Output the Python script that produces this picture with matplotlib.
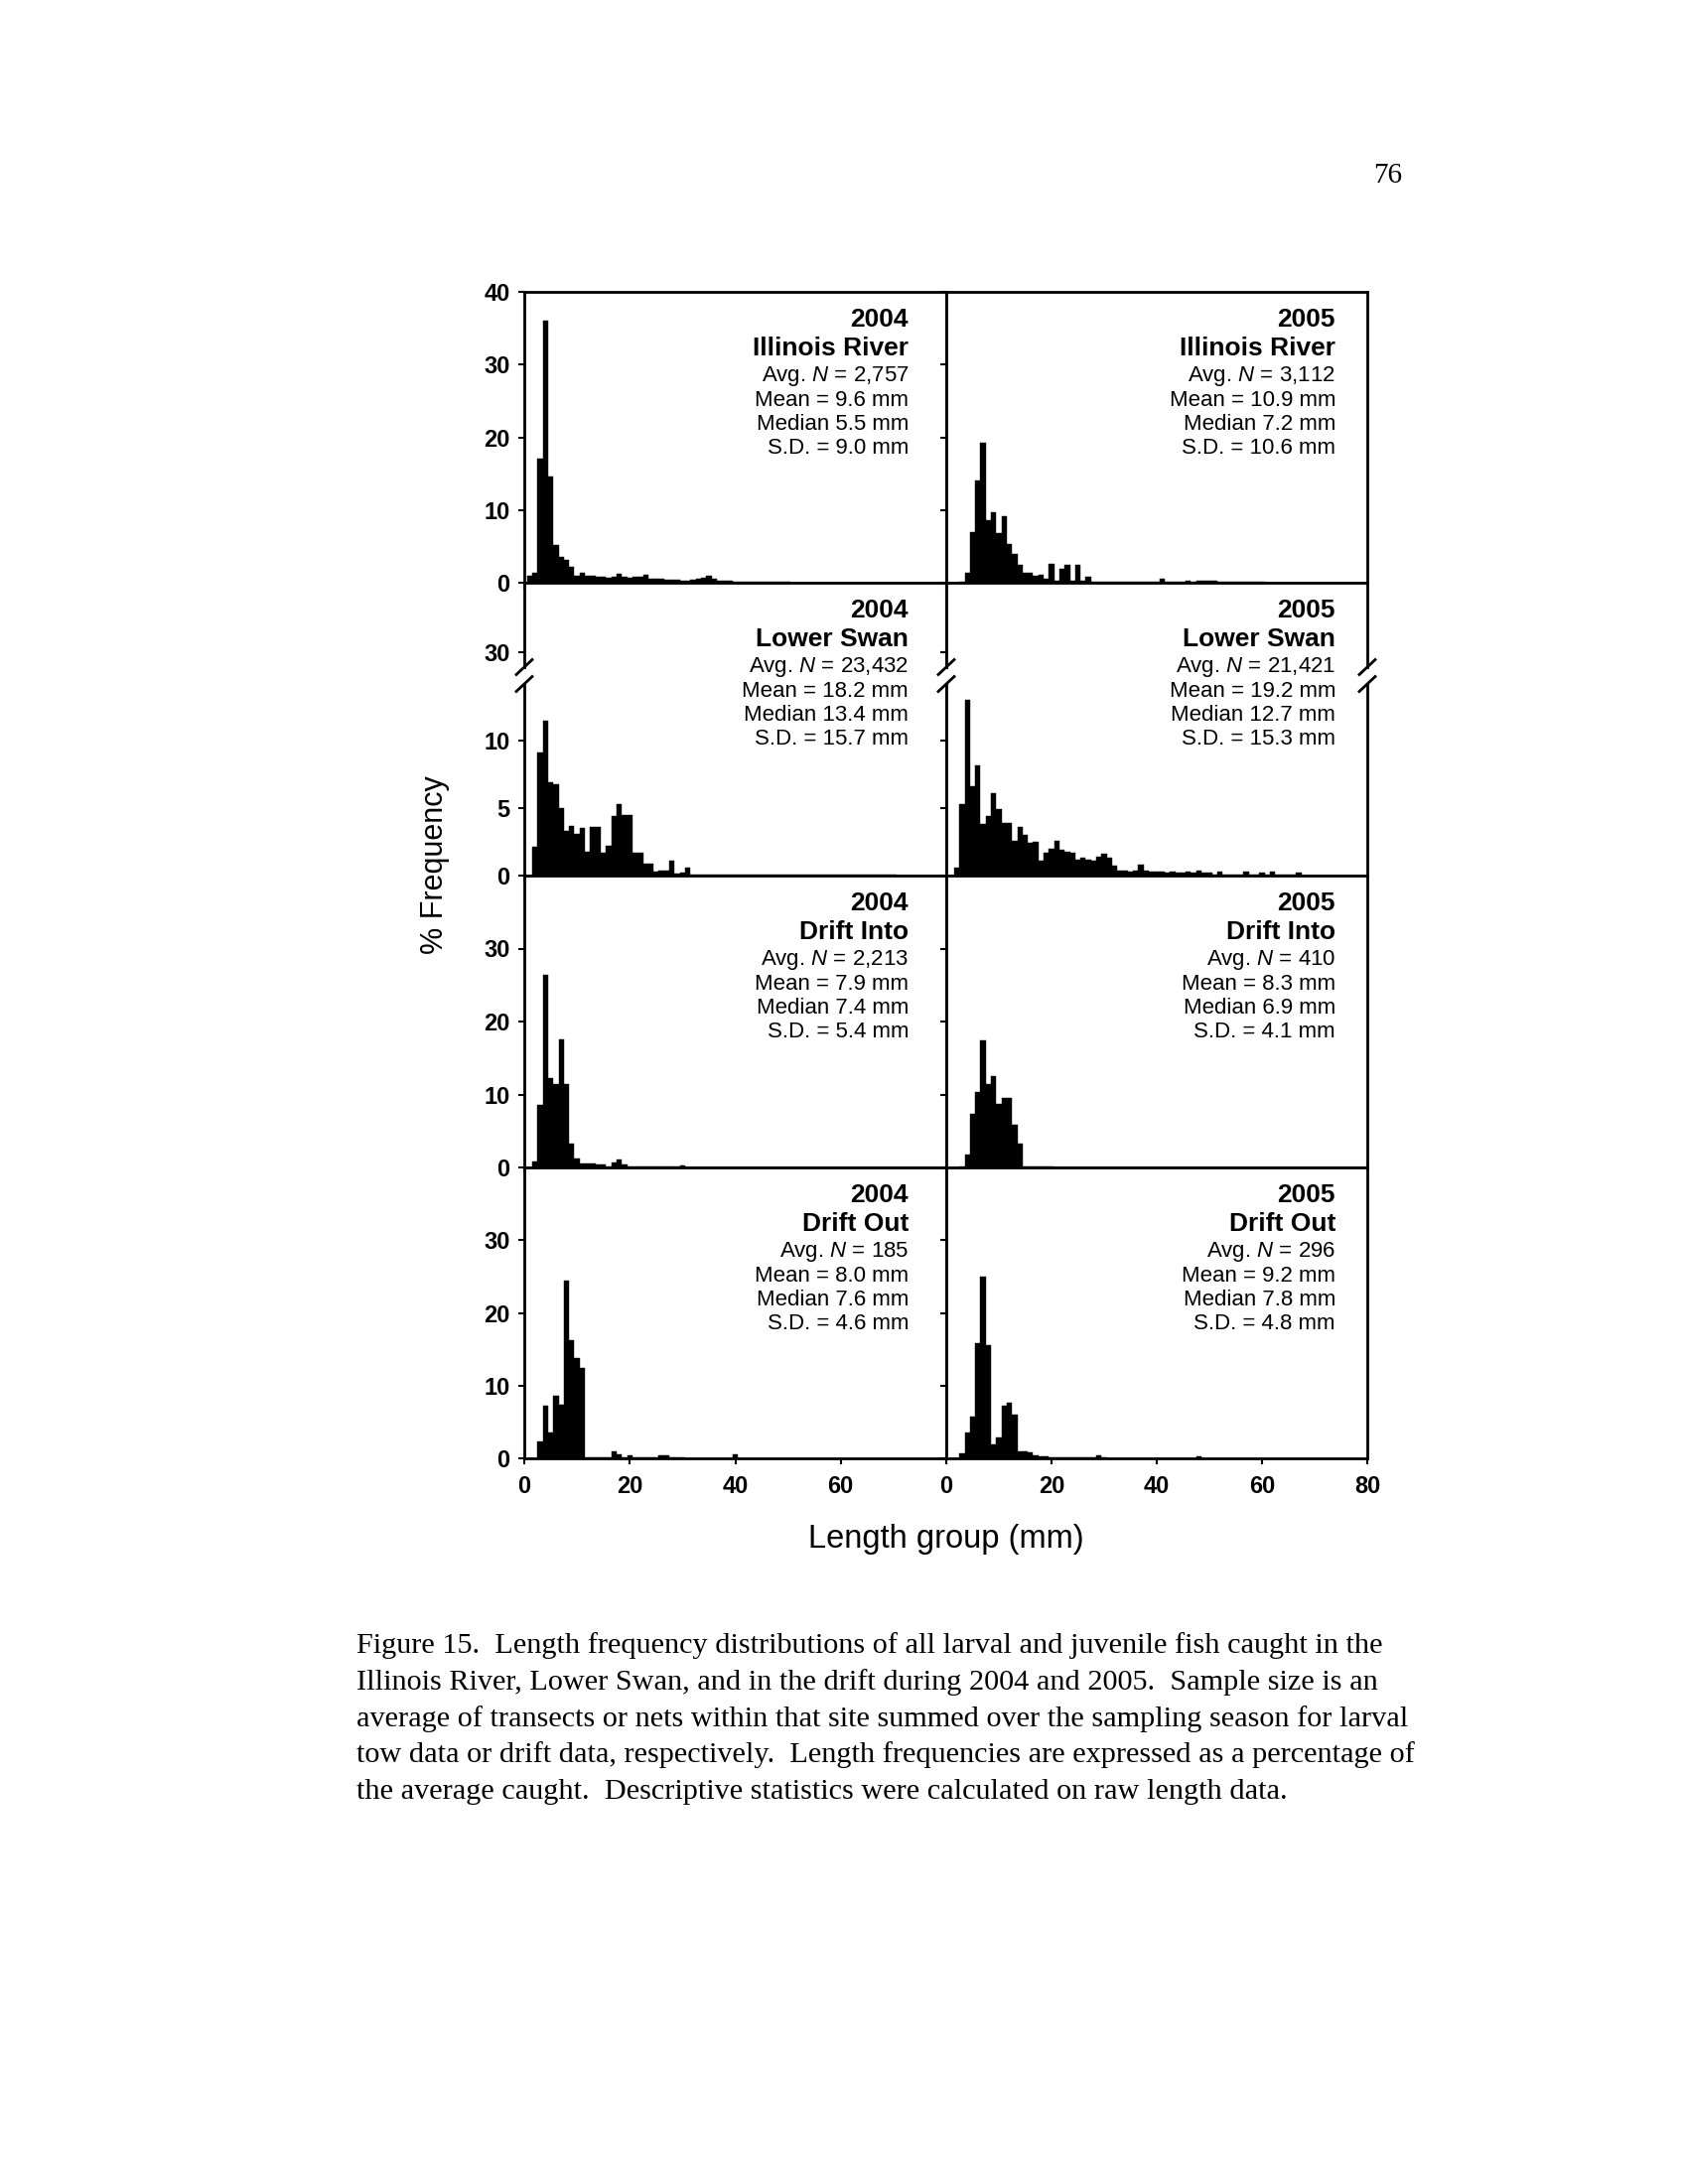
import numpy as np
import matplotlib
matplotlib.use("Agg")
import matplotlib.pyplot as plt
from matplotlib.lines import Line2D

plt.rcParams["font.family"] = ["Liberation Sans", "DejaVu Sans"]
plt.rcParams["mathtext.fontset"] = "custom"
plt.rcParams["mathtext.rm"] = "Liberation Sans"
plt.rcParams["mathtext.it"] = "Liberation Sans:italic"

# --- Daten: % Haeufigkeit je 1-mm-Laengenklasse (Klasse 1, 2, 3, ... mm) ---
ILL_2004 = [1.0, 1.3, 17.1, 36.1, 14.6, 5.2, 3.6, 3.1, 2.2, 1.0,
            1.3, 1.0, 0.9, 0.8, 0.8, 0.7, 0.8, 1.2, 0.8, 0.7,
            0.8, 0.8, 1.1, 0.6, 0.5, 0.5, 0.4, 0.4, 0.4, 0.3,
            0.3, 0.4, 0.5, 0.7, 0.9, 0.5, 0.3, 0.3, 0.3, 0.2,
            0.2, 0.2, 0.2, 0.2, 0.1, 0.1, 0.1, 0.1, 0.1, 0.1]
ILL_2005 = [0.0, 0.0, 0.2, 1.4, 7.0, 14.0, 19.2, 8.6, 9.7, 6.8,
            9.1, 5.3, 3.9, 2.4, 1.3, 1.4, 1.0, 1.1, 0.5, 2.6,
            0.3, 1.9, 2.5, 0.3, 2.4, 0.3, 0.8, 0.2, 0.2, 0.2,
            0.1, 0.1, 0.1, 0.1, 0.1, 0.1, 0.1, 0.1, 0.2, 0.2,
            0.5, 0.1, 0.1, 0.1, 0.2, 0.3, 0.2, 0.3, 0.3, 0.3,
            0.3, 0.2, 0.2, 0.1, 0.1, 0.2, 0.1, 0.1, 0.1, 0.1]
LS_2004 = [0.0, 2.1, 9.1, 11.5, 6.9, 6.8, 5.0, 3.3, 3.7, 3.1,
           3.5, 1.8, 3.6, 3.6, 1.7, 2.2, 4.4, 5.3, 4.5, 4.5,
           1.7, 1.7, 0.9, 0.9, 0.3, 0.35, 0.4, 1.1, 0.15, 0.2,
           0.6, 0.05, 0.05, 0.05, 0.05, 0.05, 0.05, 0.05, 0.05, 0.05,
           0.05, 0.1, 0.05, 0.05, 0.05, 0.05, 0.05, 0.05, 0.05, 0.05,
           0.05, 0.05, 0.05, 0.05, 0.05, 0.05, 0.05, 0.05, 0.05, 0.05,
           0.05, 0.05, 0.05, 0.05, 0.05, 0.05, 0.05, 0.05, 0.05, 0.1]
LS_2005 = [0.0, 0.6, 5.3, 13.0, 6.6, 8.2, 3.8, 4.4, 6.1, 4.9,
           3.9, 3.9, 2.6, 3.6, 3.0, 2.4, 2.5, 1.1, 1.7, 2.0,
           2.6, 1.9, 1.8, 1.7, 1.2, 1.3, 1.2, 1.1, 1.4, 1.6,
           1.3, 0.7, 0.4, 0.4, 0.3, 0.4, 0.8, 0.4, 0.3, 0.3,
           0.3, 0.2, 0.3, 0.2, 0.2, 0.3, 0.2, 0.4, 0.2, 0.2,
           0.1, 0.3, 0.1, 0.1, 0.1, 0.1, 0.3, 0.1, 0.1, 0.2,
           0.1, 0.3, 0.1, 0.1, 0.1, 0.1, 0.2]
DI_2004 = [0.0, 0.8, 8.6, 26.4, 12.2, 11.4, 17.5, 11.4, 3.2, 1.2,
           0.6, 0.55, 0.5, 0.35, 0.35, 0.15, 0.7, 1.1, 0.35, 0.1,
           0.1, 0.1, 0.1, 0.1, 0.1, 0.1, 0.1, 0.1, 0.1, 0.3]
DI_2005 = [0.0, 0.0, 0.2, 1.8, 7.4, 10.4, 17.4, 11.4, 12.5, 8.7,
           9.5, 9.5, 5.8, 3.2, 0.1, 0.1, 0.1, 0.1, 0.1, 0.1]
DO_2004 = [0.0, 0.0, 2.3, 7.2, 3.5, 8.6, 7.4, 24.5, 16.2, 13.8,
           12.4, 0.1, 0.1, 0.1, 0.1, 0.1, 1.0, 0.5, 0.1, 0.4,
           0.1, 0.1, 0.1, 0.1, 0.1, 0.4, 0.4, 0.1, 0.1, 0.1,
           0.0, 0.0, 0.0, 0.0, 0.0, 0.0, 0.0, 0.0, 0.0, 0.5]
DO_2005 = [0.0, 0.0, 0.7, 3.6, 5.7, 15.9, 25.0, 15.5, 1.9, 2.9,
           7.2, 7.7, 6.0, 1.0, 1.0, 0.8, 0.4, 0.3, 0.3, 0.2,
           0.1, 0.1, 0.1, 0.1, 0.1, 0.1, 0.1, 0.1, 0.4, 0.1,
           0.0, 0.0, 0.0, 0.0, 0.0, 0.0, 0.0, 0.0, 0.0, 0.0,
           0.0, 0.0, 0.0, 0.0, 0.0, 0.0, 0.0, 0.3]

SITES = ["Illinois River", "Lower Swan", "Drift Into", "Drift Out"]
YEARS = ["2004", "2005"]
AVG_N_2004 = ["2,757", "23,432", "2,213", "185"]
AVG_N_2005 = ["3,112", "21,421", "410", "296"]
MEAN_2004 = ["9.6", "18.2", "7.9", "8.0"]
MEAN_2005 = ["10.9", "19.2", "8.3", "9.2"]
MEDIAN_2004 = ["5.5", "13.4", "7.4", "7.6"]
MEDIAN_2005 = ["7.2", "12.7", "6.9", "7.8"]
SD_2004 = ["9.0", "15.7", "5.4", "4.6"]
SD_2005 = ["10.6", "15.3", "4.1", "4.8"]

SERIES = [[ILL_2004, LS_2004, DI_2004, DO_2004],
          [ILL_2005, LS_2005, DI_2005, DO_2005]]
STATS = [[AVG_N_2004, MEAN_2004, MEDIAN_2004, SD_2004],
         [AVG_N_2005, MEAN_2005, MEDIAN_2005, SD_2005]]

X_TICKS = [0, 20, 40, 60, 80]
Y_TICKS = [0, 10, 20, 30]

CAPTION = [
    "Figure 15.  Length frequency distributions of all larval and juvenile fish caught in the",
    "Illinois River, Lower Swan, and in the drift during 2004 and 2005.  Sample size is an",
    "average of transects or nets within that site summed over the sampling season for larval",
    "tow data or drift data, respectively.  Length frequencies are expressed as a percentage of",
    "the average caught.  Descriptive statistics were calculated on raw length data.",
]

# --- Layout (Pixel der Seite, y von oben) ---
W, H = 1696, 2200
COL_X = [(528, 953), (953, 1377)]
TEXT_RIGHT = [38, 32]
ROW_Y = [(294, 587), (587, 882), (882, 1176), (1176, 1469)]
BREAK_Y = (672, 689)
TEXT_OFFSETS = [35, 64, 90, 115, 139, 163]
LW = 2.0


def frect(xl, xr, yt, yb):
    return [xl / W, 1 - yb / H, (xr - xl) / W, (yb - yt) / H]


def fy(y):
    return 1 - y / H


def style_axes(ax, show_ylabels):
    for sp in ax.spines.values():
        sp.set_linewidth(LW)
        sp.set_color("black")
    ax.tick_params(axis="both", direction="out", length=4.5, width=1.5,
                   labelsize=17, pad=6, colors="black")
    ax.set_xlim(0, 80)
    if not show_ylabels:
        ax.set_yticklabels([])


def draw_bars(ax, data):
    x = np.arange(1, len(data) + 1)
    ax.bar(x, data, width=1.0, color="black", edgecolor="black", linewidth=0.3)


fig = plt.figure(figsize=(W / 100, H / 100), dpi=100)

for c in range(2):
    xl, xr = COL_X[c]
    for r in range(4):
        yt, yb = ROW_Y[r]
        data = SERIES[c][r]
        if r == 1:
            # gebrochene y-Achse
            ax_up = fig.add_axes(frect(xl, xr, yt, BREAK_Y[0]))
            ax = fig.add_axes(frect(xl, xr, BREAK_Y[1], yb))
            for a in (ax_up, ax):
                draw_bars(a, data)
                style_axes(a, c == 0)
            ax_up.set_ylim(27.95, 39.55)
            ax.set_ylim(0, 14.2)
            ax_up.spines["bottom"].set_visible(False)
            ax.spines["top"].set_visible(False)
            ax_up.set_xticks([])
            ax_up.set_yticks([30])
            ax.set_yticks([0, 5, 10])
            if c == 0:
                ax_up.set_yticklabels(["30"], fontweight="bold")
                ax.set_yticklabels(["0", "5", "10"], fontweight="bold")
            else:
                ax_up.set_yticklabels([])
                ax.set_yticklabels([])
        else:
            ax = fig.add_axes(frect(xl, xr, yt, yb))
            draw_bars(ax, data)
            style_axes(ax, c == 0)
            ax.set_ylim(0, 40)
            ticks = Y_TICKS + [40] if r == 0 else Y_TICKS
            ax.set_yticks(ticks)
            if c == 0:
                ax.set_yticklabels([str(t) for t in ticks], fontweight="bold")
            else:
                ax.set_yticklabels([])
        ax.set_xticks(X_TICKS)
        if r == 3:
            labels = [str(t) for t in X_TICKS]
            if c == 0:
                labels[-1] = ""
            ax.set_xticklabels(labels, fontweight="bold")
            ax.tick_params(axis="x", pad=8)
        else:
            ax.set_xticklabels([])

        # Beschriftung im Panel
        tx = (xr - TEXT_RIGHT[c]) / W
        s = STATS[c]
        lines = [
            (YEARS[c], 19, "bold"),
            (SITES[r], 19, "bold"),
            ("Avg. $\\it{N}$ = " + s[0][r], 16, "normal"),
            ("Mean = " + s[1][r] + " mm", 16, "normal"),
            ("Median " + s[2][r] + " mm", 16, "normal"),
            ("S.D. = " + s[3][r] + " mm", 16, "normal"),
        ]
        for (txt, fs, fw), off in zip(lines, TEXT_OFFSETS):
            fig.text(tx, fy(yt + off), txt, ha="right", va="baseline",
                     fontsize=fs, fontweight=fw)

# Bruchzeichen
for bx in (528, 953, 1377):
    for y0 in (672, 689):
        fig.add_artist(Line2D([(bx - 8) / W, (bx + 8) / W],
                              [fy(y0 + 7.5), fy(y0 - 7.5)],
                              transform=fig.transFigure, color="black", lw=2))

fig.text(438 / W, fy(871), "% Frequency", rotation=90, ha="center",
         va="center", fontsize=22)
fig.text(953 / W, fy(1550), "Length group (mm)", ha="center", va="center",
         fontsize=23.5)

serif = ["Liberation Serif", "DejaVu Serif"]
fig.text(1398 / W, fy(184), "76", ha="center", va="baseline", fontsize=21,
         family=serif)
for i, line in enumerate(CAPTION):
    fig.text(359 / W, fy(1665 + 36.8 * i), line, ha="left", va="baseline",
             fontsize=21.8, family=serif)

fig.savefig("out.png", dpi=100)
plt.close(fig)
